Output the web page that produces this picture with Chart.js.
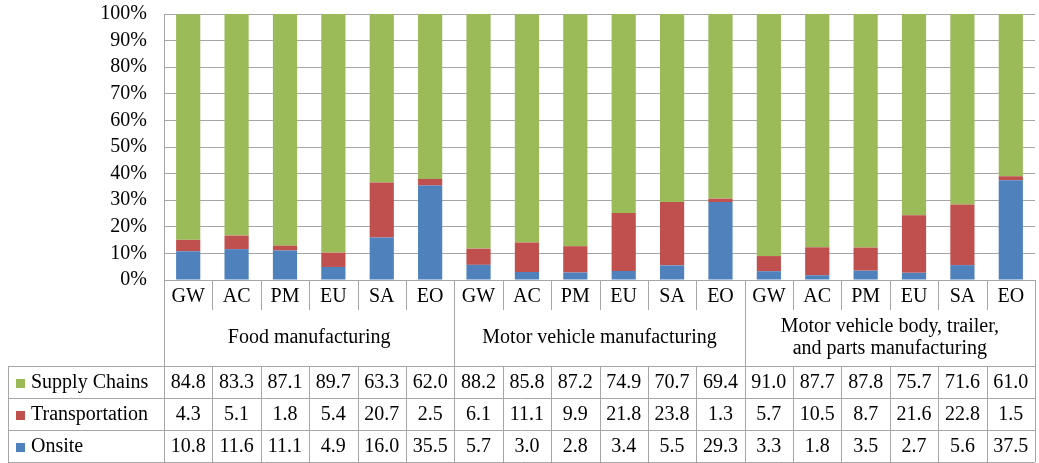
<!DOCTYPE html>
<html>
<head>
    <meta charset="utf-8">
    <title>Emissions by scope</title>
    <script src="https://cdn.jsdelivr.net/npm/chart.js"></script>
    <style>
        body { margin: 0; background: white; }
        #wrap { width: 1039px; height: 463px; }
    </style>
</head>
<body>
    <div id="wrap"><canvas id="chart" width="1039" height="463"></canvas></div>

    <script>
        // categories
        const categories = ['GW', 'AC', 'PM', 'EU', 'SA', 'EO',
                            'GW', 'AC', 'PM', 'EU', 'SA', 'EO',
                            'GW', 'AC', 'PM', 'EU', 'SA', 'EO'];
        const groups = [
            ['Food manufacturing'],
            ['Motor vehicle manufacturing'],
            ['Motor vehicle body, trailer,', 'and parts manufacturing']
        ];
        const groupSize = 6;

        // series values (%)
        const supplyChains = [84.8, 83.3, 87.1, 89.7, 63.3, 62.0,
                              88.2, 85.8, 87.2, 74.9, 70.7, 69.4,
                              91.0, 87.7, 87.8, 75.7, 71.6, 61.0];
        const transportation = [4.3, 5.1, 1.8, 5.4, 20.7, 2.5,
                                6.1, 11.1, 9.9, 21.8, 23.8, 1.3,
                                5.7, 10.5, 8.7, 21.6, 22.8, 1.5];
        const onsite = [10.8, 11.6, 11.1, 4.9, 16.0, 35.5,
                        5.7, 3.0, 2.8, 3.4, 5.5, 29.3,
                        3.3, 1.8, 3.5, 2.7, 5.6, 37.5];

        const yTicks = [0, 10, 20, 30, 40, 50, 60, 70, 80, 90, 100];

        const FONT = '"Liberation Serif", "Times New Roman", serif';
        const LINE = '#a6a6a6';

        // series drawn bottom-up; table rows listed top-down
        const series = [
            { label: 'Onsite', data: onsite, color: '#4f81bd' },
            { label: 'Transportation', data: transportation, color: '#c0504d' },
            { label: 'Supply Chains', data: supplyChains, color: '#9bbb59' }
        ];

        // data table under the plot
        const tablePlugin = {
            id: 'dataTable',
            afterDraw(chart) {
                const ctx = chart.ctx;
                const area = chart.chartArea;
                const xs = chart.scales.x;
                const n = categories.length;
                const colW = (area.right - area.left) / n;
                const top = area.bottom;
                const tickBottom = top + 30;
                const tableTop = top + 86;
                const rowH = 32;
                const tableLeft = 8;
                const rows = series.slice().reverse();
                const tableBottom = tableTop + rowH * rows.length;

                ctx.save();
                ctx.strokeStyle = LINE;
                ctx.lineWidth = 1;

                // horizontal lines of the value rows
                for (let r = 0; r <= rows.length; r++) {
                    const y = Math.round(tableTop + r * rowH) + 0.5;
                    ctx.beginPath();
                    ctx.moveTo(tableLeft, y);
                    ctx.lineTo(area.right, y);
                    ctx.stroke();
                }

                // vertical lines
                for (let i = 0; i <= n; i++) {
                    const x = Math.round(area.left + i * colW) + 0.5;
                    ctx.beginPath();
                    if (i % groupSize === 0) {
                        ctx.moveTo(x, top);
                        ctx.lineTo(x, tableBottom);
                    } else {
                        ctx.moveTo(x, top);
                        ctx.lineTo(x, tickBottom);
                        ctx.moveTo(x, tableTop);
                        ctx.lineTo(x, tableBottom);
                    }
                    ctx.stroke();
                }
                ctx.beginPath();
                ctx.moveTo(tableLeft + 0.5, tableTop);
                ctx.lineTo(tableLeft + 0.5, tableBottom);
                ctx.stroke();

                ctx.fillStyle = '#000';
                ctx.font = '20px ' + FONT;
                ctx.textBaseline = 'middle';
                ctx.textAlign = 'center';

                // category labels
                categories.forEach((c, i) => {
                    ctx.fillText(c, xs.getPixelForValue(i), top + 17);
                });

                // group labels
                groups.forEach((lines, g) => {
                    const cx = area.left + (g + 0.5) * groupSize * colW;
                    const mid = top + 58;
                    lines.forEach((t, k) => {
                        const y = mid + (k - (lines.length - 1) / 2) * 22;
                        ctx.fillText(t, cx, y);
                    });
                });

                // value rows with legend keys
                rows.forEach((s, r) => {
                    const cy = tableTop + r * rowH + rowH / 2 + 1;
                    ctx.fillStyle = s.color;
                    ctx.fillRect(16, cy - 4, 9, 9);
                    ctx.fillStyle = '#000';
                    ctx.textAlign = 'left';
                    ctx.fillText(s.label, 31, cy);
                    ctx.textAlign = 'center';
                    s.data.forEach((v, i) => {
                        ctx.fillText(v.toFixed(1), xs.getPixelForValue(i), cy);
                    });
                });
                ctx.restore();
            }
        };

        new Chart(document.getElementById('chart'), {
            type: 'bar',
            data: {
                labels: categories,
                datasets: series.map(s => ({
                    label: s.label,
                    data: s.data,
                    backgroundColor: s.color,
                    barPercentage: 0.5,
                    categoryPercentage: 1.0
                }))
            },
            options: {
                responsive: false,
                animation: false,
                layout: { padding: { top: 14, right: 4, bottom: 183, left: 0 } },
                plugins: {
                    legend: { display: false },
                    tooltip: { enabled: false }
                },
                scales: {
                    x: {
                        display: false,
                        stacked: true
                    },
                    y: {
                        stacked: true,
                        min: 0,
                        max: 100,
                        afterFit: s => {
                            s.width = 164;
                            s.paddingTop = 0;
                            s.paddingBottom = 0;
                        },
                        afterBuildTicks: s => { s.ticks = yTicks.map(v => ({ value: v })); },
                        grid: { color: LINE, lineWidth: 1, drawTicks: false },
                        border: { color: LINE },
                        ticks: {
                            autoSkip: false,
                            padding: 17,
                            color: '#000',
                            font: { family: FONT, size: 20 },
                            callback: v => v + '%'
                        }
                    }
                }
            },
            plugins: [tablePlugin]
        });
    </script>
</body>
</html>
